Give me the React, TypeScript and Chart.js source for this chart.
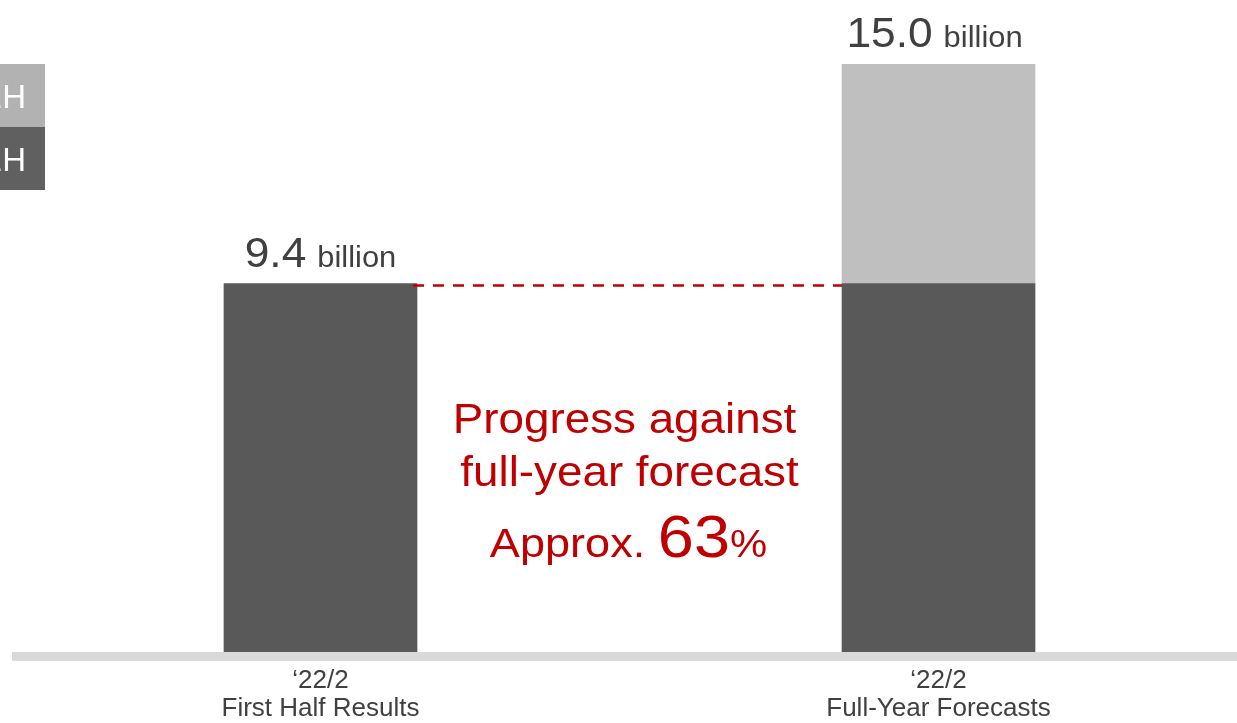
import { useEffect, useRef } from "react";
import { Chart, registerables } from "chart.js";

Chart.register(...registerables);

const categories = [
  ["\u201822/2", "First Half Results"],
  ["\u201822/2", "Full-Year Forecasts"],
];
const firstHalf = [9.4, 9.4];
const secondHalf = [null, 5.6];
const totalLabels = ["9.4", "15.0"];
const unitLabel = "billion";
const seriesNames = ["1H", "2H"];
const progressLines = ["Progress against", "full-year forecast"];
const progressPrefix = "Approx. ";
const progressValue = "63";
const progressSuffix = "%";

const FONT = '"Liberation Sans", Arial, sans-serif';
const DARK = "#595959";
const LIGHT = "#bfbfbf";
const LEGEND_DARK = "#606060";
const LEGEND_LIGHT = "#b2b2b2";
const RED = "#c00000";
const TEXT = "#404040";

function stretchText(ctx: any, text: string, x: number, y: number, sx: number) {
  ctx.save();
  ctx.translate(x, y);
  ctx.scale(sx, 1);
  ctx.fillText(text, 0, 0);
  ctx.restore();
}

const overlayPlugin = {
  id: "overlay",
  afterDatasetsDraw(chart: any) {
    const { ctx, chartArea, scales } = chart;
    const y = scales.y;
    const zeroY = y.getPixelForValue(0);
    ctx.save();
    // baseline band
    ctx.fillStyle = "#d9d9d9";
    ctx.fillRect(chartArea.left, zeroY, chartArea.right - chartArea.left, 9);

    const m0 = chart.getDatasetMeta(0);
    const bars = m0.data;
    // total labels
    ctx.textBaseline = "alphabetic";
    ctx.textAlign = "left";
    const sxNum = 1.03;
    bars.forEach((bar: any, i: number) => {
      const total = (firstHalf[i] || 0) + ((secondHalf[i] as number) || 0);
      const topY = y.getPixelForValue(total);
      ctx.font = `43px ${FONT}`;
      const numW = ctx.measureText(totalLabels[i]).width * sxNum;
      ctx.font = `30px ${FONT}`;
      const gap = 11;
      const unitW = ctx.measureText(unitLabel).width * sxNum;
      const totalW = numW + gap + unitW;
      const x0 = bar.x - totalW / 2 - (i === 1 ? 4 : 0);
      const base = topY - 17;
      ctx.fillStyle = TEXT;
      ctx.font = `43px ${FONT}`;
      stretchText(ctx, totalLabels[i], x0, base, sxNum);
      ctx.font = `30px ${FONT}`;
      stretchText(ctx, unitLabel, x0 + numW + gap, base, sxNum);
    });

    // dashed line
    const lineY = y.getPixelForValue(firstHalf[0]) + 2;
    const b0 = bars[0];
    const b1 = bars[1];
    ctx.strokeStyle = RED;
    ctx.lineWidth = 2.6;
    ctx.setLineDash([11, 9]);
    ctx.beginPath();
    ctx.moveTo(b0.x + b0.width / 2 - 4, lineY);
    ctx.lineTo(b1.x - b1.width / 2, lineY);
    ctx.stroke();
    ctx.setLineDash([]);

    // progress text
    const cx = (b0.x + b1.x) / 2 - 1;
    const sxRed = 1.09;
    ctx.fillStyle = RED;
    ctx.textAlign = "left";
    ctx.font = `42px ${FONT}`;
    const w1 = ctx.measureText(progressLines[0]).width * sxRed;
    const w2 = ctx.measureText(progressLines[1]).width * sxRed;
    stretchText(ctx, progressLines[0], cx - 4 - w1 / 2, 433, sxRed);
    stretchText(ctx, progressLines[1], cx + 1 - w2 / 2, 486, sxRed);
    const sxA = 1.1;
    ctx.font = `41px ${FONT}`;
    const pw = ctx.measureText(progressPrefix).width * sxA;
    ctx.font = `59px ${FONT}`;
    const vw = ctx.measureText(progressValue).width * sxA;
    ctx.font = `38px ${FONT}`;
    const sw = ctx.measureText(progressSuffix).width * sxA;
    let x = cx - (pw + vw + sw) / 2;
    ctx.font = `41px ${FONT}`;
    stretchText(ctx, progressPrefix, x, 557, sxA);
    x += pw;
    ctx.font = `59px ${FONT}`;
    stretchText(ctx, progressValue, x, 557, sxA);
    x += vw;
    ctx.font = `38px ${FONT}`;
    stretchText(ctx, progressSuffix, x, 557, sxA);

    // legend (partially off-canvas on the left)
    const legendItems = [
      { name: seriesNames[1], color: LEGEND_LIGHT },
      { name: seriesNames[0], color: LEGEND_DARK },
    ];
    const boxH = 63;
    legendItems.forEach((it, i) => {
      const top = chartArea.top + i * boxH;
      ctx.fillStyle = it.color;
      ctx.fillRect(0, top, 45, boxH);
      ctx.fillStyle = "#ffffff";
      ctx.font = `33px ${FONT}`;
      ctx.textAlign = "right";
      ctx.textBaseline = "alphabetic";
      ctx.fillText(it.name, 26, top + 44);
    });
    ctx.restore();
  },
};

export default function App() {
  const ref = useRef<HTMLCanvasElement | null>(null);
  useEffect(() => {
    if (!ref.current) return;
    const chart = new Chart(ref.current, {
      type: "bar",
      data: {
        datasets: [
          {
            label: seriesNames[0],
            data: firstHalf.map((v, i) => ({ x: i, y: v })),
            backgroundColor: DARK,
            barThickness: 193,
          },
          {
            label: seriesNames[1],
            data: secondHalf.map((v, i) => ({ x: i, y: v })),
            backgroundColor: LIGHT,
            barThickness: 193,
          },
        ],
      },
      plugins: [overlayPlugin],
      options: {
        animation: false,
        responsive: true,
        maintainAspectRatio: false,
        layout: { padding: { left: 12, right: 0, top: 64, bottom: 0 } },
        plugins: { legend: { display: false }, tooltip: { enabled: false } },
        scales: {
          x: {
            type: "linear",
            stacked: true,
            offset: false,
            min: -0.4992,
            max: 1.483,
            grid: { display: false, drawTicks: false, tickLength: 0, offset: false },
            border: { display: false },
            afterBuildTicks: (axis: any) => {
              axis.ticks = categories.map((_, i) => ({ value: i }));
            },
            afterFit: (axis: any) => {
              axis.height = 71;
            },
            ticks: {
              autoSkip: false,
              maxRotation: 0,
              padding: 15,
              color: TEXT,
              font: { family: FONT, size: 26, lineHeight: 1.08 },
              callback: (v: any) => categories[v as number] ?? "",
            },
          },
          y: {
            display: false,
            stacked: true,
            min: 0,
            max: 15,
          },
        },
      },
    });
    return () => chart.destroy();
  }, []);
  return (
    <div style={{ position: "absolute", left: 0, top: 0, width: 1237, height: 723 }}>
      <canvas ref={ref} />
    </div>
  );
}
